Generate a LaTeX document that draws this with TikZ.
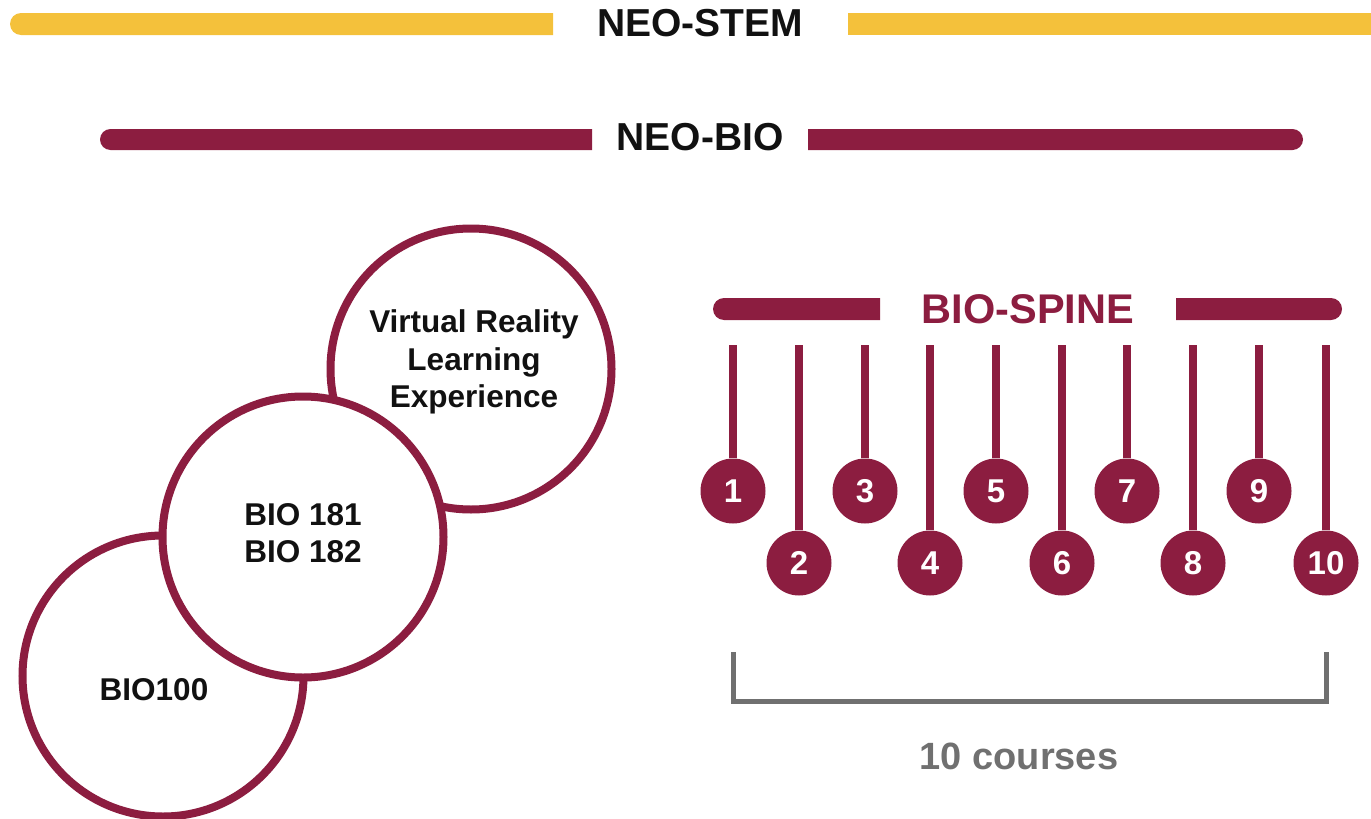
\documentclass[tikz,border=0pt]{standalone}
\usepackage{fontspec}
\setmainfont{Liberation Sans}
\definecolor{maroon}{HTML}{8C1D40}
\definecolor{gold}{HTML}{F4C13B}
\definecolor{greyline}{HTML}{707070}
\definecolor{ink}{HTML}{111111}
\begin{document}
\begin{tikzpicture}[x=1pt,y=-1pt,
  title/.style={font=\fontsize{39}{39}\selectfont\bfseries, text=ink, inner sep=0, anchor=base},
  bigcirc/.style={circle, draw=maroon, line width=8pt, fill=white, minimum size=281pt, inner sep=0},
  circtext/.style={font=\fontsize{31.5}{37.5}\selectfont\bfseries, text=ink, align=center, inner sep=0},
  numc/.style={circle, fill=maroon, minimum size=65pt, inner sep=0, text=white, font=\fontsize{33}{33}\selectfont\bfseries},
  spine/.style={draw=maroon, line width=8pt},
  bracket/.style={draw=greyline, line width=5pt, line join=miter},
]
\useasboundingbox (0,0) rectangle (1371,819);

% NEO-STEM gold bars
\fill[gold] (553,13) -- (21,13) arc[start angle=270,end angle=90,radius=11] -- (553,35) -- cycle;
\fill[gold] (848,13) rectangle (1371,35);
\node[title] (stem) at (700,36) {NEO-STEM};

% NEO-BIO maroon bars
\fill[maroon] (592,129) -- (110.5,129) arc[start angle=270,end angle=90,radius=10.5] -- (592,150) -- cycle;
\fill[maroon] (808,129) -- (1292.5,129) arc[start angle=270,end angle=450,radius=10.5] -- (808,150) -- cycle;
\node[title] (bio) at (700,150) {NEO-BIO};

% Overlapping circles
\node[bigcirc] (c100) at (163,676) {};
\node[bigcirc] (cvr) at (471,369) {};
\node[bigcirc] (c181) at (303,537) {};
\node[circtext] (tvr) at (474,362) {Virtual Reality\\Learning\\Experience};
\node[circtext] (t181) at (303,533) {BIO 181\\BIO 182};
\node[circtext] (t100) at (154,690) {BIO100};

% BIO-SPINE
\fill[maroon] (880,298) -- (724,298) arc[start angle=270,end angle=90,radius=11] -- (880,320) -- cycle;
\fill[maroon] (1176,298) -- (1331,298) arc[start angle=270,end angle=450,radius=11] -- (1176,320) -- cycle;
\node[title, text=maroon, font=\fontsize{41.5}{41.5}\selectfont\bfseries] (spinet) at (1028,323) {BIO-SPINE};

\foreach \i/\x/\y in {1/733/491, 2/799/563, 3/865/491, 4/930/563, 5/996/491, 6/1062/563, 7/1127/491, 8/1193/563, 9/1259/491, 10/1326/563} {
  \coordinate (t\i) at (\x,345);
  \node[numc] (n\i) at (\x,\y) {\i};
  \draw[spine] (t\i) -- (n\i);
}

% bracket
\coordinate (b1) at (733,652);
\coordinate (b1d) at (733,701);
\coordinate (b2) at (1326,652);
\coordinate (b2d) at (1326,701);
\draw[bracket] (b1) -- (b1d) -- (b2d) -- (b2);
\node[title, text=greyline, font=\fontsize{38}{38}\selectfont\bfseries] (courses) at (1019,769) {10 courses};
\end{tikzpicture}
\end{document}
